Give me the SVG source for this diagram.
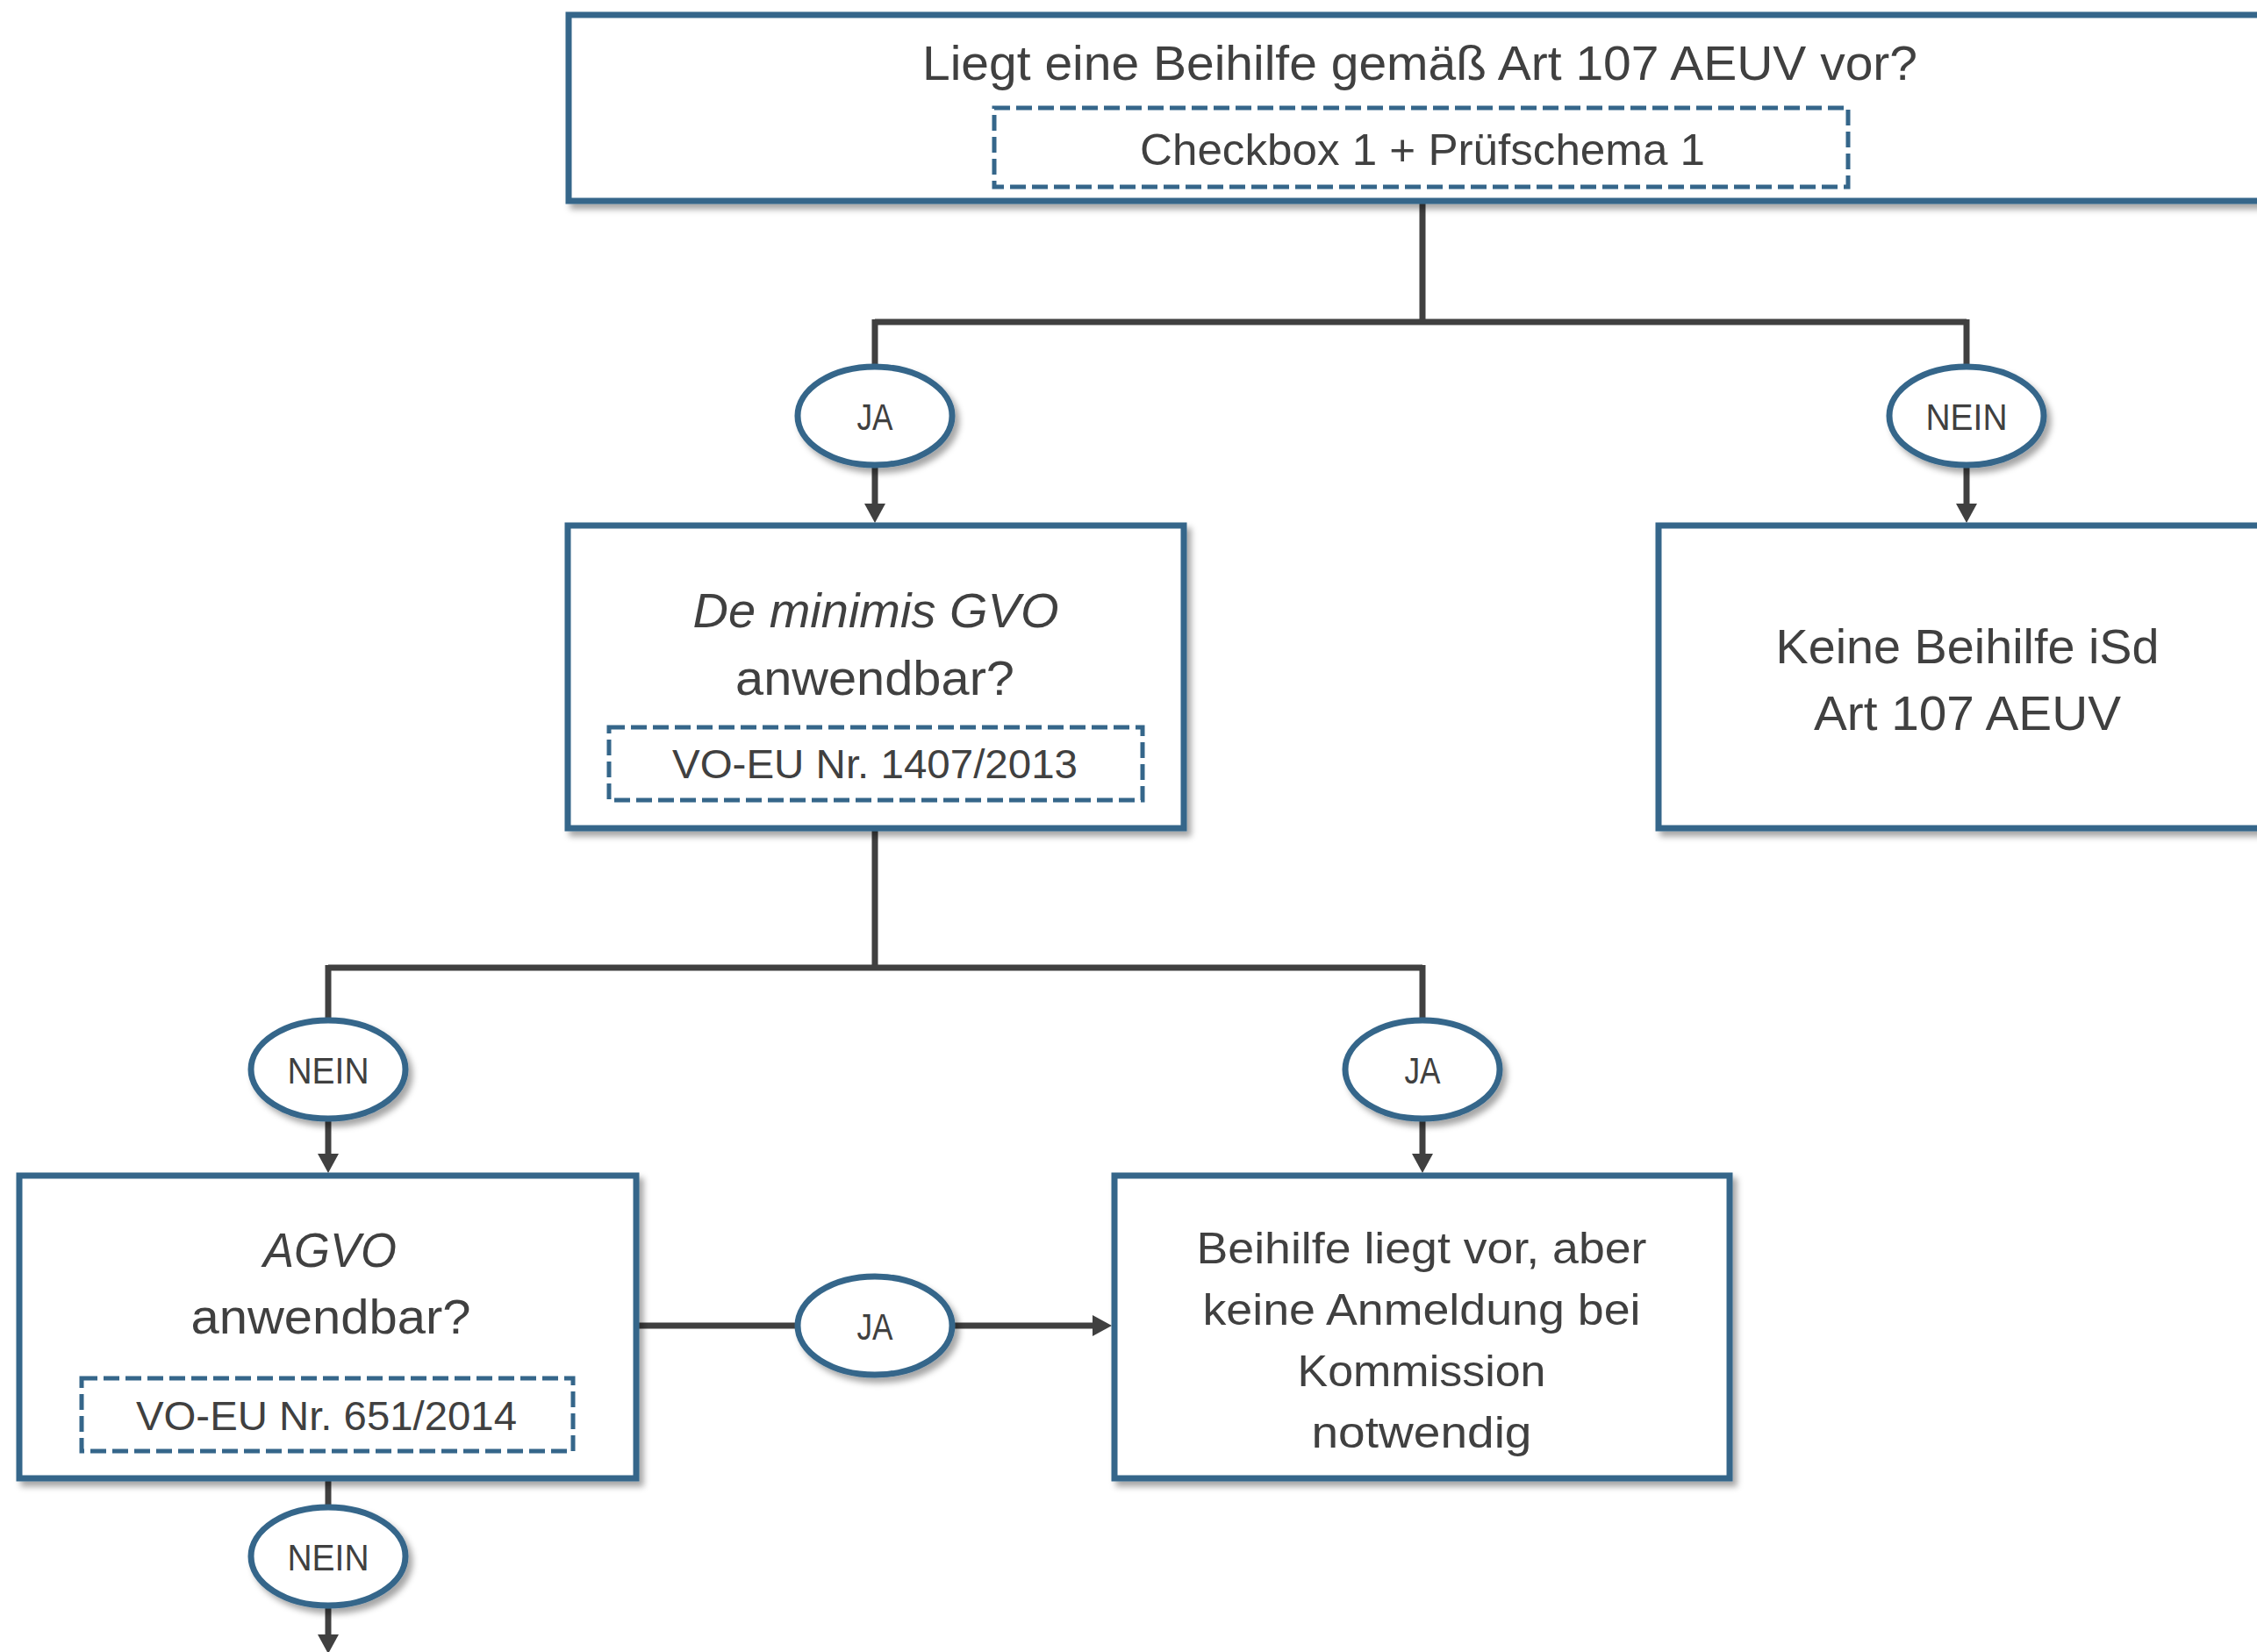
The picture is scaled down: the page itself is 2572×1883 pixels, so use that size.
<svg xmlns="http://www.w3.org/2000/svg" width="2572" height="1883" viewBox="0 0 2572 1883">
<defs>
<filter id="sh" x="-10%" y="-10%" width="130%" height="140%">
<feDropShadow dx="5" dy="6" stdDeviation="3.5" flood-color="#000" flood-opacity="0.35"/>
</filter>
<marker id="ar" markerUnits="userSpaceOnUse" markerWidth="22" markerHeight="24" refX="0" refY="12" orient="auto">
<path d="M0,0 L22,12 L0,24 z" fill="#404040"/>
</marker>
</defs>
<style>
.box{fill:#fff;stroke:#35668a;stroke-width:7;filter:url(#sh)}
.dash{fill:none;stroke:#35668a;stroke-width:5;stroke-dasharray:18 7}
.ell{fill:#fff;stroke:#35668a;stroke-width:7;filter:url(#sh)}
.con{fill:none;stroke:#404040;stroke-width:7}
.arr{fill:none;stroke:#404040;stroke-width:7;marker-end:url(#ar)}
text{font-family:"Liberation Sans",Arial,sans-serif;fill:#404040;text-anchor:middle}
.t1{font-size:56px}
.t2{font-size:50px}
.t3{font-size:47px}
.lb{font-size:42px}
.it{font-style:italic}
</style>
<g id="connectors">
<path class="con" d="M1621,229 V367 M997,367 H2241 M997,364 V418 M2241,364 V418"/>
<path class="arr" d="M997,530 V574"/>
<path class="arr" d="M2241,530 V574"/>
<path class="con" d="M997,945 V1103 M374,1103 H1621 M374,1100 V1163 M1621,1100 V1163"/>
<path class="arr" d="M374,1275 V1315"/>
<path class="arr" d="M1621,1275 V1315"/>
<path class="con" d="M726,1511 H910"/>
<path class="arr" d="M1085,1511 H1245"/>
<path class="con" d="M374,1686 V1720"/>
<path class="arr" d="M374,1828 V1863"/>
</g>
<g id="n-top">
<rect class="box" x="648" y="17" width="1942" height="212"/>
<text class="t1" x="1618" y="91" textLength="1134" lengthAdjust="spacingAndGlyphs">Liegt eine Beihilfe gemäß Art 107 AEUV vor?</text>
<rect class="dash" x="1133" y="123" width="973" height="90"/>
<text class="t2" x="1621" y="188" textLength="644" lengthAdjust="spacingAndGlyphs">Checkbox 1 + Prüfschema 1</text>
</g>
<g id="e-ja1">
<ellipse class="ell" cx="997" cy="474" rx="88" ry="56"/>
<text class="lb" x="997" y="490" textLength="41" lengthAdjust="spacingAndGlyphs">JA</text>
</g>
<g id="e-nein1">
<ellipse class="ell" cx="2241" cy="474" rx="88" ry="56"/>
<text class="lb" x="2241" y="490" textLength="93" lengthAdjust="spacingAndGlyphs">NEIN</text>
</g>
<g id="n-deminimis">
<rect class="box" x="647" y="599" width="702" height="345"/>
<text class="t1 it" x="998" y="715" textLength="417" lengthAdjust="spacingAndGlyphs">De minimis GVO</text>
<text class="t1" x="997" y="792" textLength="318" lengthAdjust="spacingAndGlyphs">anwendbar?</text>
<rect class="dash" x="694" y="829" width="608" height="83"/>
<text class="t3" x="997" y="887" textLength="462" lengthAdjust="spacingAndGlyphs">VO-EU Nr. 1407/2013</text>
</g>
<g id="n-keine">
<rect class="box" x="1890" y="599" width="702" height="345"/>
<text class="t1" x="2242" y="756" textLength="437" lengthAdjust="spacingAndGlyphs">Keine Beihilfe iSd</text>
<text class="t1" x="2242" y="832" textLength="350" lengthAdjust="spacingAndGlyphs">Art 107 AEUV</text>
</g>
<g id="e-nein2">
<ellipse class="ell" cx="374" cy="1219" rx="88" ry="56"/>
<text class="lb" x="374" y="1235" textLength="93" lengthAdjust="spacingAndGlyphs">NEIN</text>
</g>
<g id="e-ja2">
<ellipse class="ell" cx="1621" cy="1219" rx="88" ry="56"/>
<text class="lb" x="1621" y="1235" textLength="41" lengthAdjust="spacingAndGlyphs">JA</text>
</g>
<g id="n-agvo">
<rect class="box" x="22" y="1340" width="703" height="345"/>
<text class="t1 it" x="376" y="1444" textLength="152" lengthAdjust="spacingAndGlyphs">AGVO</text>
<text class="t1" x="377" y="1520" textLength="319" lengthAdjust="spacingAndGlyphs">anwendbar?</text>
<rect class="dash" x="93" y="1571" width="560" height="83"/>
<text class="t3" x="372" y="1630" textLength="434" lengthAdjust="spacingAndGlyphs">VO-EU Nr. 651/2014</text>
</g>
<g id="e-ja3">
<ellipse class="ell" cx="997" cy="1511" rx="88" ry="56"/>
<text class="lb" x="997" y="1527" textLength="41" lengthAdjust="spacingAndGlyphs">JA</text>
</g>
<g id="n-beihilfe">
<rect class="box" x="1270" y="1340" width="701" height="345"/>
<text class="t2" x="1620" y="1440" textLength="513" lengthAdjust="spacingAndGlyphs">Beihilfe liegt vor, aber</text>
<text class="t2" x="1620" y="1510" textLength="499" lengthAdjust="spacingAndGlyphs">keine Anmeldung bei</text>
<text class="t2" x="1620" y="1580" textLength="283" lengthAdjust="spacingAndGlyphs">Kommission</text>
<text class="t2" x="1620" y="1650" textLength="251" lengthAdjust="spacingAndGlyphs">notwendig</text>
</g>
<g id="e-nein3">
<ellipse class="ell" cx="374" cy="1774" rx="88" ry="56"/>
<text class="lb" x="374" y="1790" textLength="93" lengthAdjust="spacingAndGlyphs">NEIN</text>
</g>
</svg>
